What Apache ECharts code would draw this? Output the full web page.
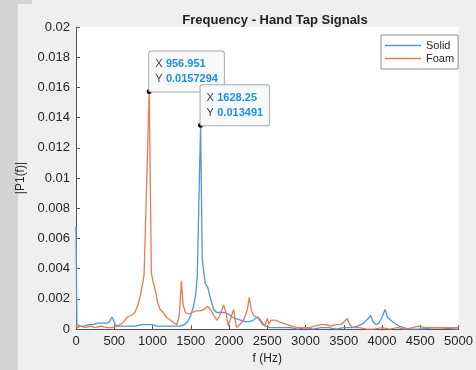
<!DOCTYPE html>
<html>
<head>
<meta charset="utf-8">
<script src="https://cdn.jsdelivr.net/npm/echarts@6/dist/echarts.min.js"></script>
<style>
  html, body { margin: 0; padding: 0; background: #efefef; }
  #chart { width: 476px; height: 370px; }
</style>
</head>
<body>
<div id="chart"></div>
<script>
// Single-sided amplitude spectra of the hand tap recordings
const solidFreq = [0, 12, 50, 100, 160, 220, 280, 340, 400, 440, 470, 490, 510, 560, 620, 700, 780, 860, 940, 1000,
  1060, 1140, 1220, 1300, 1360, 1420, 1460, 1500, 1535, 1565, 1585, 1628.25, 1650, 1670, 1690, 1720, 1745, 1770, 1800,
  1840, 1890, 1940, 1990, 2040, 2090, 2150, 2210, 2270, 2320, 2370, 2400, 2440, 2480, 2540, 2600, 2700, 2800, 2900,
  3000, 3100, 3200, 3300, 3400, 3500, 3600, 3680, 3760, 3820, 3850, 3880, 3920, 3960, 4000, 4040, 4070, 4110, 4160,
  4220, 4280, 4350, 4500, 4700, 5000];
const solidVal = [0.0068, 0.0003, 0.0002, 0.0002, 0.0003, 0.0003, 0.0004, 0.0004, 0.0004, 0.0005, 0.0008, 0.0006, 0.0003,
  0.0002, 0.0002, 0.0002, 0.0002, 0.0003, 0.0003, 0.0003, 0.0002, 0.0002, 0.0002, 0.0002, 0.0002, 0.0003, 0.0005,
  0.0009, 0.0015, 0.0023, 0.0035, 0.013491, 0.0047, 0.0038, 0.0030, 0.0028, 0.0027, 0.0018, 0.0013, 0.0011, 0.0011,
  0.0011, 0.0010, 0.0008, 0.0007, 0.0006, 0.0005, 0.0005, 0.0006, 0.0008, 0.0006, 0.0003, 0.0002, 0.0001, 0.0001,
  0.0001, 0.0001, 0.0000, 0.0001, 0.0000, 0.0001, 0.0001, 0.0000, 0.0001, 0.0001, 0.0002, 0.0004, 0.0007, 0.0009,
  0.0005, 0.0003, 0.0004, 0.0008, 0.0013, 0.0008, 0.0006, 0.0004, 0.0002, 0.0001, 0.0000, 0.0000, 0.0001, 0.0000];

const foamFreq = [0, 20, 60, 120, 180, 250, 320, 400, 470, 540, 610, 670, 720, 770, 810, 840, 870, 890, 956.951, 985,
  1010, 1040, 1065, 1100, 1140, 1180, 1230, 1280, 1320, 1350, 1378, 1400, 1430, 1470, 1520, 1570, 1620, 1670, 1720,
  1760, 1800, 1840, 1880, 1930, 1965, 1990, 2010, 2040, 2060, 2080, 2100, 2140, 2190, 2240, 2265, 2290, 2320, 2360,
  2400, 2440, 2470, 2500, 2520, 2550, 2600, 2650, 2700, 2760, 2820, 2900, 2980, 3050, 3120, 3200, 3260, 3320, 3400,
  3460, 3510, 3545, 3580, 3620, 3700, 3800, 3900, 4000, 4100, 4200, 4300, 4400, 4480, 4550, 4650, 4750, 4850, 5000];
const foamVal = [0.0003, 0.0001, 0.0002, 0.0001, 0.0002, 0.0001, 0.0002, 0.0001, 0.0001, 0.0002, 0.0004, 0.0008, 0.0009,
  0.0011, 0.0016, 0.0022, 0.0030, 0.0036, 0.0157294, 0.0037, 0.0031, 0.0025, 0.0018, 0.0013, 0.0011, 0.0008, 0.0006,
  0.0004, 0.0003, 0.0009, 0.0032, 0.0016, 0.0011, 0.0010, 0.0011, 0.0012, 0.0012, 0.0013, 0.0015, 0.0013, 0.0009,
  0.0006, 0.0009, 0.0016, 0.0010, 0.0002, 0.0001, 0.0010, 0.0013, 0.0006, 0.0001, 0.0003, 0.0006, 0.0013, 0.0021,
  0.0013, 0.0009, 0.0008, 0.0007, 0.0004, 0.0002, 0.0007, 0.0003, 0.0006, 0.0006, 0.0005, 0.0004, 0.0003, 0.0002,
  0.0001, 0.0001, 0.0001, 0.0002, 0.0003, 0.0003, 0.0002, 0.0003, 0.0003, 0.0005, 0.0007, 0.0003, 0.0001, 0.0001,
  0.0000, 0.0000, 0.0001, 0.0000, 0.0001, 0.0000, 0.0001, 0.0002, 0.0001, 0.0001, 0.0001, 0.0001, 0.0001];

// Data-tip readouts (frequency, amplitude, displayed strings)
const solidTip = { x: 1628.25, y: 0.013491, xText: '1628.25', yText: '0.013491' };
const foamTip = { x: 956.951, y: 0.0157294, xText: '956.951', yText: '0.0157294' };

const seriesNames = ['Solid', 'Foam'];
const xTicks = { min: 0, max: 5000, interval: 500 };
const yTicks = { min: 0, max: 0.02, interval: 0.002 };

const FONT = '"Liberation Sans", Arial, Helvetica, sans-serif';
const pair = (fs, vs) => fs.map((f, i) => [f, vs[i]]);

function tip(t, z) {
  return {
    z: z,
    symbol: 'circle',
    symbolSize: 5,
    itemStyle: { color: '#000' },
    data: [{
      coord: [t.x, t.y],
      label: {
        show: true,
        position: [2.5, 2.5],
        align: 'left',
        verticalAlign: 'bottom',
        backgroundColor: '#f8f9fb',
        borderColor: '#a8a8a8',
        borderWidth: 1,
        borderRadius: 2,
        padding: [5, 6, 5, 6],
        lineHeight: 15,
        formatter: '{k|X} {v|' + t.xText + '}\n{k|Y} {v|' + t.yText + '}',
        rich: {
          k: { color: '#404040', fontSize: 11, fontFamily: FONT, lineHeight: 15 },
          v: { color: '#1d8fe3', fontSize: 11, fontWeight: 'bold', fontFamily: FONT, lineHeight: 15 }
        }
      }
    }]
  };
}

const chart = echarts.init(document.getElementById('chart'), null, { renderer: 'canvas' });
chart.setOption({
  animation: false,
  backgroundColor: '#efefef',
  textStyle: { fontFamily: FONT },
  graphic: [
    { type: 'rect', left: 0, top: 0, z: -10, shape: { width: 18, height: 370 }, style: { fill: '#d4d4d4' } },
    { type: 'rect', left: 0, top: 0, z: -10, shape: { width: 32, height: 4 }, style: { fill: '#d4d4d4' } }
  ],
  title: {
    text: 'Frequency - Hand Tap Signals',
    left: 270,
    textAlign: 'center',
    top: 9,
    textStyle: { fontSize: 13, fontWeight: 'bold', color: '#222', fontFamily: FONT }
  },
  legend: {
    data: seriesNames.map(n => ({ name: n, icon: 'rect' })),
    orient: 'vertical',
    left: 381,
    top: 35,
    padding: [5, 4, 5, 4],
    itemGap: 2,
    itemWidth: 36,
    itemHeight: 1.5,
    backgroundColor: '#fff',
    borderColor: '#8c8c8c',
    borderWidth: 1,
    textStyle: { fontSize: 11, color: '#262626', fontFamily: FONT, lineHeight: 11 }
  },
  grid: { left: 76, right: 13, top: 27, bottom: 38, show: true, backgroundColor: '#fff', borderWidth: 0 },
  xAxis: {
    type: 'value',
    min: xTicks.min, max: xTicks.max, interval: xTicks.interval,
    name: 'f (Hz)',
    nameLocation: 'middle',
    nameGap: 22,
    nameTextStyle: { fontSize: 12, color: '#262626', fontFamily: FONT },
    axisLine: { show: true, lineStyle: { color: '#555', width: 1 } },
    axisTick: { show: true, inside: true, length: 4, lineStyle: { color: '#555' } },
    axisLabel: { fontSize: 13, color: '#262626', margin: 6, fontFamily: FONT, formatter: v => String(v) },
    splitLine: { show: false }
  },
  yAxis: {
    type: 'value',
    min: yTicks.min, max: yTicks.max, interval: yTicks.interval,
    name: '|P1(f)|',
    nameLocation: 'middle',
    nameGap: 44,
    nameRotate: 90,
    nameTextStyle: { fontSize: 12, color: '#262626', fontFamily: FONT },
    axisLine: { show: true, lineStyle: { color: '#555', width: 1 } },
    axisTick: { show: true, inside: true, length: 4, lineStyle: { color: '#555' } },
    axisLabel: { fontSize: 13, color: '#262626', margin: 6, fontFamily: FONT },
    splitLine: { show: false }
  },
  series: [
    {
      name: seriesNames[0],
      type: 'line',
      data: pair(solidFreq, solidVal),
      symbol: 'none',
      lineStyle: { color: '#4f98d2', width: 1.3 },
      itemStyle: { color: '#4f98d2' },
      markPoint: tip(solidTip, 12)
    },
    {
      name: seriesNames[1],
      type: 'line',
      data: pair(foamFreq, foamVal),
      symbol: 'none',
      lineStyle: { color: '#e87b54', width: 1.3 },
      itemStyle: { color: '#e87b54' },
      markPoint: tip(foamTip, 8)
    }
  ]
});
</script>
</body>
</html>
